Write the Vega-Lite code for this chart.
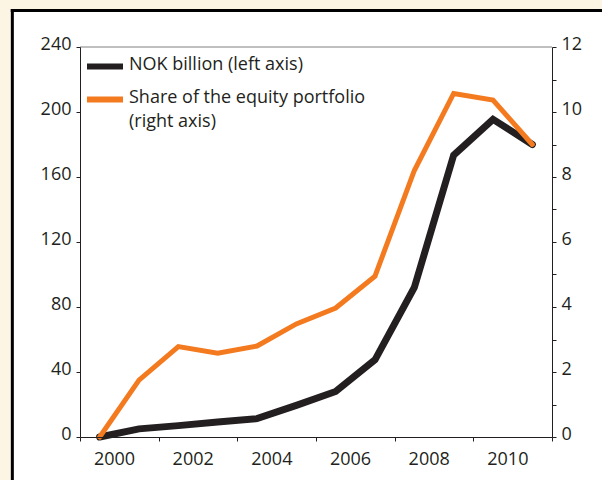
{
  "$schema": "https://vega.github.io/schema/vega-lite/v6.json",
  "width": 472,
  "height": 390,
  "autosize": {"type": "none"},
  "padding": {"left": 80, "top": 47, "right": 50, "bottom": 43},
  "background": "#FDF5E3",
  "config": {
    "view": {"stroke": null},
    "font": "Open Sans",
    "style": {"guide-label": {"lineHeight": 24}},
    "axis": {
      "zindex": 1,
      "grid": false,
      "domainColor": "#231F20",
      "tickColor": "#231F20",
      "labelColor": "#231F20",
      "labelFont": "Open Sans",
      "labelFontSize": 18,
      "tickSize": 4,
      "domainWidth": 1,
      "tickWidth": 1
    },
    "legend": {
      "orient": "none",
      "legendX": 12,
      "legendY": 10,
      "padding": 0,
      "title": null,
      "symbolType": "M-1.8,-0.36H1.8",
      "symbolSize": 400,
      "symbolStrokeWidth": 6,
      "labelFont": "Open Sans",
      "labelFontSize": 18,
      "labelColor": "#231F20",
      "labelBaseline": "alphabetic",
      "labelLimit": 400,
      "labelOffset": 11,
      "rowPadding": 8
    }
  },
  "datasets": {
    "series": [
      {"year": 2000, "nok": 0, "share": 0},
      {"year": 2001, "nok": 5, "share": 1.75},
      {"year": 2002, "nok": 7, "share": 2.78},
      {"year": 2003, "nok": 9.2, "share": 2.58},
      {"year": 2004, "nok": 11.3, "share": 2.8},
      {"year": 2005, "nok": 19.5, "share": 3.48},
      {"year": 2006, "nok": 28, "share": 3.97},
      {"year": 2007, "nok": 47.5, "share": 4.95},
      {"year": 2008, "nok": 92, "share": 8.2},
      {"year": 2009, "nok": 173.5, "share": 10.57},
      {"year": 2010, "nok": 195.5, "share": 10.37},
      {"year": 2011, "nok": 180, "share": 9.0}
    ],
    "one": [{"item": "frame"}]
  },
  "layer": [
    {
      "layer": [
        {
          "data": {"name": "one"},
          "mark": {"type": "rect", "fill": "white", "strokeWidth": 0, "clip": false},
          "encoding": {
            "x": {"datum": 1997.78, "type": "quantitative"},
            "x2": {"datum": 2030},
            "y": {"datum": 262.5, "type": "quantitative"},
            "y2": {"datum": -80}
          }
        },
        {
          "data": {"name": "one"},
          "mark": {"type": "rule", "color": "#000000", "strokeWidth": 3, "clip": false},
          "encoding": {
            "x": {"datum": 1997.78, "type": "quantitative"},
            "y": {"datum": 263.4, "type": "quantitative"},
            "y2": {"datum": -80}
          }
        },
        {
          "data": {"name": "one"},
          "mark": {"type": "rule", "color": "#000000", "strokeWidth": 3, "clip": false},
          "encoding": {
            "x": {"datum": 1997.74, "type": "quantitative"},
            "x2": {"datum": 2030},
            "y": {"datum": 262.5, "type": "quantitative"}
          }
        },
        {
          "data": {"name": "one"},
          "mark": {"type": "rule", "color": "#808080", "strokeWidth": 1},
          "encoding": {
            "y": {"datum": 240, "type": "quantitative"}
          }
        },
        {
          "data": {"name": "series"},
          "mark": {"type": "line", "strokeWidth": 7, "strokeCap": "round", "strokeJoin": "miter"},
          "encoding": {
            "x": {
              "field": "year",
              "type": "quantitative",
              "scale": {"domain": [1999.5, 2011.5], "nice": false, "zero": false},
              "axis": {
                "title": null,
                "zindex": 2,
                "values": [1999.5, 2001.5, 2003.5, 2005.5, 2007.5, 2009.5, 2011.5],
                "labelExpr": "datum.value < 2011 ? format(datum.value + 0.5, 'd') : ''",
                "labelOffset": 34,
                "labelPadding": 9,
                "labelFlush": false,
                "labelOverlap": false,
                "labelBound": false
              }
            },
            "y": {
              "field": "nok",
              "type": "quantitative",
              "scale": {"domain": [0, 240], "nice": false, "zero": false},
              "axis": {
                "title": null,
                "zindex": 2,
                "orient": "left",
                "values": [0, 20, 40, 60, 80, 100, 120, 140, 160, 180, 200, 220, 240],
                "labelExpr": "datum.value % 40 == 0 ? datum.label : ''",
                "labelPadding": 5,
                "labelOffset": -3,
                "labelOverlap": false,
                "labelBound": false
              }
            },
            "color": {
              "datum": "NOK billion (left axis)",
              "type": "nominal",
              "scale": {
                "domain": ["NOK billion (left axis)", "Share of the equity portfolio"],
                "range": ["#231F20", "#F47A20"]
              },
              "legend": {
                "labelExpr": "datum.label == 'Share of the equity portfolio' ? ['Share of the equity portfolio', '(right axis)'] : datum.label"
              }
            }
          }
        }
      ]
    },
    {
      "data": {"name": "series"},
      "mark": {"type": "line", "strokeWidth": 5, "strokeCap": "round", "strokeJoin": "miter"},
      "encoding": {
        "x": {"field": "year", "type": "quantitative"},
        "y": {
          "field": "share",
          "type": "quantitative",
          "scale": {"domain": [0, 12], "nice": false, "zero": false},
          "axis": {
            "title": null,
            "zindex": 2,
            "orient": "right",
            "values": [0, 1, 2, 3, 4, 5, 6, 7, 8, 9, 10, 11, 12],
            "labelExpr": "datum.value % 2 == 0 ? datum.label : ''",
            "labelPadding": 5,
            "labelOffset": -3,
            "labelOverlap": false,
            "labelBound": false
          }
        },
        "color": {"datum": "Share of the equity portfolio", "type": "nominal"}
      }
    }
  ],
  "resolve": {"scale": {"y": "independent"}}
}
